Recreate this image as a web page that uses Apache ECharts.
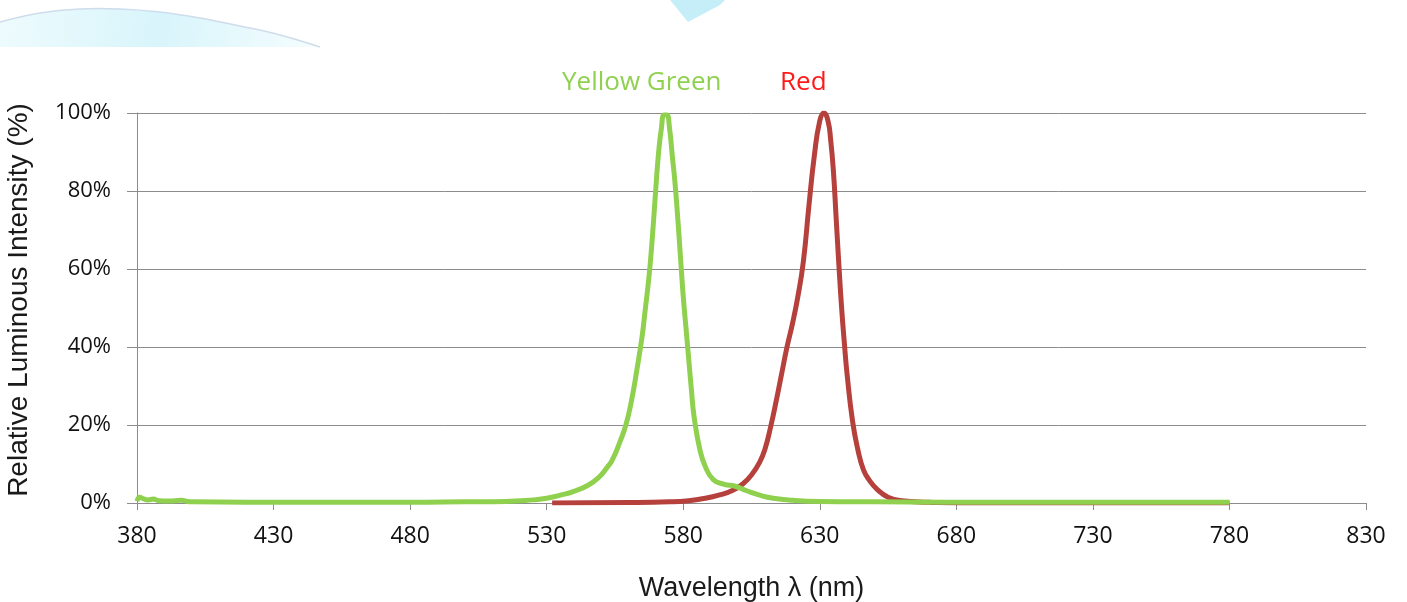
<!DOCTYPE html>
<html>
<head>
<meta charset="utf-8">
<title>Relative Luminous Intensity</title>
<script src="https://cdn.jsdelivr.net/npm/echarts@6/dist/echarts.min.js"></script>
<style>
  html, body { margin: 0; padding: 0; background: #fff; }
  #chart { width: 1407px; height: 602px; }
</style>
</head>
<body>
<div id="chart"></div>
<script>
// wavelength axis starts at 380 nm, ticks every 50 nm
var X0 = 380
var xTicks = [380, 430, 480, 530, 580, 630, 680, 730, 780, 830]
var yTicks = [0, 20, 40, 60, 80, 100]

// yellow green spectrum (nm, %)
var greenNm = [380, 381, 382, 384, 386, 388, 392, 396, 400, 420, 450, 480, 500, 515, 525, 530, 535, 540, 545, 549,
  552, 554, 557, 559, 561, 563, 565, 566, 567, 568, 569, 570, 571, 572, 573, 574, 575, 576, 577, 578, 579,
  580, 581, 582, 583, 584, 586, 588, 591, 595, 599, 603, 608, 613, 620, 630, 650, 700, 750, 780]
var greenPct = [0.5, 1.5, 1.2, 0.8, 1.0, 0.6, 0.5, 0.7, 0.3, 0.2, 0.2, 0.2, 0.3, 0.4, 0.8, 1.2, 2.0, 3.0, 4.5, 6.5,
  9, 11, 16, 20, 26, 34, 43, 49, 55, 62, 71, 81, 90, 96, 99.5, 99.5, 96, 89, 82, 73, 63,
  53, 45, 37, 29, 22, 14, 9.5, 6, 4.8, 4.3, 3.2, 2, 1.2, 0.7, 0.4, 0.3, 0.2, 0.2, 0.2]

// red spectrum (nm, %)
var redNm = [532, 560, 575, 582, 588, 593, 598, 602, 605, 608, 610, 612, 614, 616, 618, 620, 622, 624, 626, 628,
  630, 631.5, 633, 634, 635, 636, 637, 638, 639, 640, 642, 644, 646, 648, 651, 655, 660, 670, 680, 780]
var redPct = [0, 0.1, 0.3, 0.6, 1.2, 2.0, 3.2, 5, 7.2, 10.5, 14, 19.5, 26, 33, 40, 46, 53, 62, 76, 89,
  98, 100, 98, 93, 85, 73, 61, 50, 41, 33, 21, 13.5, 8.5, 6, 3.5, 1.5, 0.6, 0.2, 0, 0]

function toPoints (nm, pct) {
  return nm.map(function (w, i) { return [w - X0, pct[i]] })
}

var green = '#8fd14f'
var red = '#b5403c'
var gridColor = '#8c8c8c'

var chart = echarts.init(document.getElementById('chart'))
var option = {
  animation: false,
  grid: { left: 137, right: 41, top: 113, bottom: 99, outerBoundsMode: 'none' },
  xAxis: {
    type: 'value',
    min: 0,
    max: xTicks[xTicks.length - 1] - X0,
    interval: 50,
    name: 'Wavelength \u03bb (nm)',
    nameLocation: 'middle',
    nameGap: 72,
    nameTextStyle: { fontFamily: 'Liberation Sans', fontSize: 27, color: '#1a1a1a' },
    axisLine: { show: true, lineStyle: { color: gridColor, width: 1 } },
    axisTick: { show: true, length: 7, lineStyle: { color: gridColor } },
    axisLabel: {
      margin: 22,
      fontFamily: 'Open Sans',
      fontSize: 23,
      color: '#111',
      formatter: function (v) { return String(v + X0) }
    },
    splitLine: { show: false }
  },
  yAxis: {
    type: 'value',
    min: yTicks[0],
    max: yTicks[yTicks.length - 1],
    interval: 20,
    name: 'Relative Luminous Intensity (%)',
    nameLocation: 'middle',
    nameGap: 104,
    nameTextStyle: { fontFamily: 'Liberation Sans', fontSize: 28, color: '#1a1a1a', padding: [0, 0, 0, 16] },
    axisLine: { show: true, lineStyle: { color: gridColor, width: 1 } },
    axisTick: { show: true, length: 10, lineStyle: { color: gridColor } },
    axisLabel: {
      margin: 26,
      fontFamily: 'Open Sans',
      fontSize: 22,
      color: '#111',
      formatter: '{value}%'
    },
    splitLine: { show: true, lineStyle: { color: gridColor, width: 1 } }
  },
  graphic: [
    {
      // decorative swoosh, top left
      type: 'polygon',
      z: -10,
      shape: {
        points: [[0, 22], [40, 13], [80, 9], [120, 9], [160, 12], [200, 18], [240, 26], [280, 35], [320, 47], [0, 47]]
      },
      style: {
        fill: {
          type: 'linear', x: 0, y: 0, x2: 1, y2: 1,
          colorStops: [
            { offset: 0, color: '#eefbfd' },
            { offset: 0.5, color: '#d8f5fb' },
            { offset: 1, color: '#f6fdfe' }
          ]
        }
      }
    },
    {
      type: 'polyline',
      z: -9,
      shape: { points: [[0, 22], [40, 13], [80, 9], [120, 9], [160, 12], [200, 18], [240, 26], [280, 35], [320, 47]], smooth: 0.4 },
      style: { stroke: '#cfdcec', lineWidth: 1.5, fill: null }
    },
    {
      type: 'polygon',
      z: -10,
      shape: { points: [[670, 0], [725, 0], [720, 5], [688, 22]] },
      style: { fill: '#c6eef8' }
    },
    {
      type: 'text',
      left: 562,
      top: 70,
      style: { text: 'Yellow Green', fill: green, font: '26px "Open Sans"' }
    },
    {
      type: 'text',
      left: 780,
      top: 70,
      style: { text: 'Red', fill: '#ff1a1a', font: '26px "Open Sans"' }
    }
  ],
  series: [
    {
      name: 'Red',
      type: 'line',
      data: toPoints(redNm, redPct),
      showSymbol: false,
      smooth: 0.5,
      lineStyle: { color: red, width: 5 },
      z: 2
    },
    {
      name: 'Yellow Green',
      type: 'line',
      data: toPoints(greenNm, greenPct),
      showSymbol: false,
      smooth: 0.5,
      lineStyle: { color: green, width: 5 },
      z: 3
    }
  ]
}
chart.setOption(option)
</script>
</body>
</html>
